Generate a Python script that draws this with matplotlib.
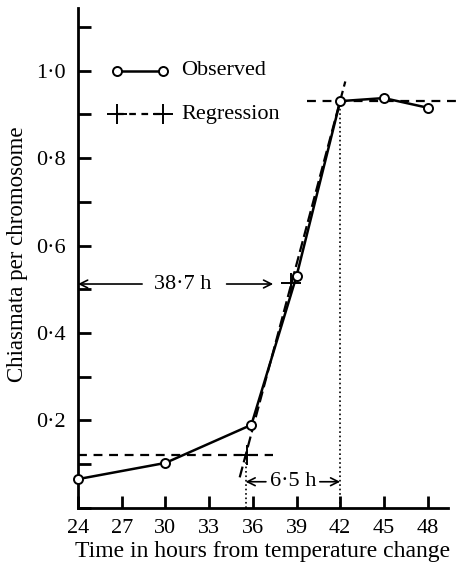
"""Chiasmata per chromosome after temperature change"""

from matplotlib import pyplot as plt
from matplotlib.ticker import MultipleLocator, FuncFormatter

# observed values
obs_hours = [24, 30, 35.9, 39, 42, 45, 48]
obs_chiasmata = [0.066, 0.103, 0.19, 0.53, 0.93, 0.937, 0.915]

# regression: low plateau, slope, high plateau
low_hours = [24, 37.4]
low_level = [0.12, 0.12]
high_hours = [39.7, 50.5]
high_level = [0.93, 0.93]
slope_hours = [35.1, 42.35]
slope_values = [0.07, 0.975]
cross_hours = [35.6, 38.6]
cross_values = [0.12, 0.515]

onset = 35.5
plateau = 42.0

x_ticks = [24, 27, 30, 33, 36, 39, 42, 45, 48]


def dot_fmt(v, pos):
    """Decimal point printed as a raised dot, zero left blank"""
    if v == 0:
        return ''
    return ('%.1f' % v).replace('.', '\u00b7')


plt.rcParams['font.family'] = ['Liberation Serif', 'DejaVu Serif']
plt.rcParams['font.size'] = 16

fig = plt.figure(figsize=(4.59, 5.65), dpi=100)
ax = fig.add_axes([0.170, 0.1009, 0.806, 0.885])

ax.plot(obs_hours, obs_chiasmata, 'k-', lw=1.8, marker='o', ms=6.5,
        mfc='white', mec='k', mew=1.4, zorder=4, clip_on=False)

ax.plot(low_hours, low_level, 'k--', lw=1.6, dashes=(4, 3), clip_on=False)
ax.plot(high_hours, high_level, 'k--', lw=1.6, dashes=(4, 3), clip_on=False)
ax.plot(slope_hours, slope_values, 'k--', lw=1.6, dashes=(5, 2), clip_on=False)
ax.plot(cross_hours, cross_values, 'k+', ms=15, mew=1.4, zorder=5)

# dotted guides
ax.plot([onset, onset], [0, 0.12], 'k:', lw=1.2)
ax.plot([plateau, plateau], [0, 0.93], 'k:', lw=1.2)

arrow = dict(arrowstyle='->', lw=1.2, color='k', shrinkA=0, shrinkB=0,
             mutation_scale=14)

# 38.7 h annotation
ax.annotate('', xy=(24, 0.512), xytext=(28.4, 0.512), arrowprops=arrow)
ax.annotate('', xy=(37.4, 0.512), xytext=(34.2, 0.512), arrowprops=arrow)
ax.text(31.2, 0.512, '38\u00b77 h', ha='center', va='center', fontsize=16)

# 6.5 h annotation
ax.annotate('', xy=(onset, 0.06), xytext=(36.9, 0.06), arrowprops=arrow)
ax.annotate('', xy=(plateau, 0.06), xytext=(40.6, 0.06), arrowprops=arrow)
ax.text(38.75, 0.06, '6\u00b75 h', ha='center', va='center', fontsize=16)

# legend drawn by hand
ax.plot([26.7, 29.8], [1.0, 1.0], 'k-', lw=1.8, marker='o', ms=6.5,
        mfc='white', mec='k', mew=1.4)
ax.text(31.1, 1.0, 'Observed', va='center', fontsize=16)
ax.plot([26.7, 29.8], [0.9, 0.9], 'k--', lw=1.6, dashes=(3, 2.5))
ax.plot([26.7, 29.8], [0.9, 0.9], 'k+', ms=15, mew=1.4)
ax.text(31.1, 0.9, 'Regression', va='center', fontsize=16)

ax.set_xlim(24, 49.4)
ax.set_ylim(0, 1.143)
ax.set_xticks(x_ticks)
ax.yaxis.set_major_locator(MultipleLocator(0.2))
ax.yaxis.set_minor_locator(MultipleLocator(0.1))
ax.yaxis.set_major_formatter(FuncFormatter(dot_fmt))

for side in ['top', 'right']:
    ax.spines[side].set_visible(False)
for side in ['left', 'bottom']:
    ax.spines[side].set_linewidth(2.0)

ax.tick_params(axis='both', direction='in', length=9, width=2.0,
               labelsize=16)
ax.tick_params(axis='x', pad=8)
ax.tick_params(axis='y', pad=9)
ax.tick_params(axis='y', which='minor', direction='in', length=9, width=2.0)

ax.set_xlabel('Time in hours from temperature change', fontsize=17,
              labelpad=2)
ax.set_ylabel('Chiasmata per chromosome', fontsize=16.5)
ax.yaxis.set_label_coords(-0.135, 0.508)

fig.savefig('out.png', dpi=100)
